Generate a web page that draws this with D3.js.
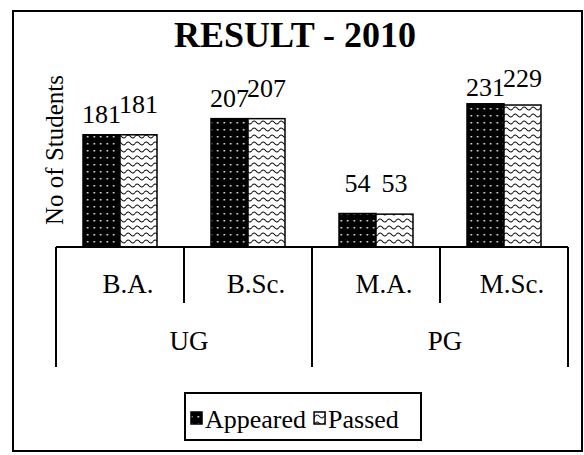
<!DOCTYPE html>
<html>
<head>
<meta charset="utf-8">
<script src="https://cdn.jsdelivr.net/npm/d3@7"></script>
<style>
  html, body { margin: 0; padding: 0; background: #fff; }
  svg { display: block; }
</style>
</head>
<body>
<svg id="chart" width="584" height="455"></svg>
<script>
// ---- data ----
const categories = ["B.A.", "B.Sc.", "M.A.", "M.Sc."];
const categoryGroup = ["UG", "UG", "PG", "PG"];
const groupNames = ["UG", "PG"];
const seriesNames = ["Appeared", "Passed"];
const appeared = [181, 207, 54, 231];
const passed = [181, 207, 53, 229];
const titleText = "RESULT - 2010";
const yTitle = "No of Students";

// ---- layout ----
const FONT = "Liberation Serif";
const plotLeft = 56, plotRight = 568, baseY = 247;
const svg = d3.select("#chart").attr("font-family", FONT);

const defs = svg.append("defs");
const dots = defs.append("pattern").attr("id", "dots")
  .attr("patternUnits", "userSpaceOnUse").attr("width", 6.5).attr("height", 7);
dots.append("rect").attr("width", 6.5).attr("height", 7).attr("fill", "#000");
dots.append("rect").attr("x", 2.5).attr("y", 3).attr("width", 1.5).attr("height", 1.5).attr("fill", "#fff");

const wave = defs.append("pattern").attr("id", "wave")
  .attr("patternUnits", "userSpaceOnUse").attr("width", 9).attr("height", 7);
wave.append("rect").attr("width", 9).attr("height", 7).attr("fill", "#fff");
wave.append("path").attr("d", "M0,3.5 Q2.25,0.5 4.5,3.5 T9,3.5").attr("fill", "none")
  .attr("stroke", "#000").attr("stroke-width", 1.1);

const fills = { Appeared: "url(#dots)", Passed: "url(#wave)" };

// outer border
svg.append("rect").attr("x", 13).attr("y", 11).attr("width", 569).attr("height", 440)
  .attr("fill", "none").attr("stroke", "#000").attr("stroke-width", 2);

// title
svg.append("text").attr("x", 295).attr("y", 47).attr("text-anchor", "middle")
  .attr("font-family", FONT).attr("font-size", 36).attr("font-weight", "bold").text(titleText);

// y title
svg.append("text").attr("transform", "translate(63,150) rotate(-90)")
  .attr("font-family", FONT).attr("text-anchor", "middle").attr("font-size", 25).text(yTitle);

const x0 = d3.scaleBand().domain(categories).range([plotLeft, plotRight]);
const x1 = d3.scaleBand().domain(seriesNames).range([0, x0.bandwidth()])
  .paddingInner(0).paddingOuter(0.73);
const y = d3.scaleLinear().domain([0, 250]).range([baseY, 92]);

const rows = categories.map((c, i) => ({ cat: c, Appeared: appeared[i], Passed: passed[i] }));
const labelLift = { Appeared: 12, Passed: 22 };
const labelLiftOverride = { "M.A.": { Appeared: 22, Passed: 22 }, "M.Sc.": { Appeared: 8, Passed: 18 } };

const g = svg.append("g");
rows.forEach(r => {
  seriesNames.forEach(s => {
    const bx = x0(r.cat) + x1(s);
    g.append("rect").attr("x", bx).attr("y", y(r[s]))
      .attr("width", x1.bandwidth()).attr("height", y(0) - y(r[s]))
      .attr("fill", fills[s]).attr("stroke", "#000").attr("stroke-width", 1.5);
    const lift = (labelLiftOverride[r.cat] || labelLift)[s];
    g.append("text").attr("x", bx + x1.bandwidth() / 2).attr("y", y(r[s]) - lift)
      .attr("font-family", FONT).attr("text-anchor", "middle").attr("font-size", 26).text(r[s]);
  });
});

// category axis (two-level)
const ax = svg.append("g").attr("stroke", "#000").attr("stroke-width", 2);
ax.append("line").attr("x1", plotLeft).attr("x2", plotRight).attr("y1", baseY).attr("y2", baseY);
categories.forEach((c, i) => {
  const left = x0(c);
  const isGroupStart = i === 0 || categoryGroup[i] !== categoryGroup[i - 1];
  ax.append("line").attr("x1", left).attr("x2", left).attr("y1", baseY)
    .attr("y2", isGroupStart ? 367 : 303);
});
ax.append("line").attr("x1", plotRight).attr("x2", plotRight).attr("y1", baseY).attr("y2", 367);

categories.forEach(c => {
  svg.append("text").attr("x", x0(c) + x0.bandwidth() / 2 + 8).attr("y", 293)
    .attr("font-family", FONT).attr("text-anchor", "middle").attr("font-size", 27).text(c);
});
groupNames.forEach(gn => {
  const members = categories.filter((c, i) => categoryGroup[i] === gn);
  const gx0 = x0(members[0]);
  const gx1 = x0(members[members.length - 1]) + x0.bandwidth();
  svg.append("text").attr("x", (gx0 + gx1) / 2 + 5).attr("y", 350)
    .attr("font-family", FONT).attr("text-anchor", "middle").attr("font-size", 27).text(gn);
});

// legend
const lg = svg.append("g");
lg.append("rect").attr("x", 185).attr("y", 393).attr("width", 236).attr("height", 47)
  .attr("fill", "#fff").attr("stroke", "#000").attr("stroke-width", 2);
let lx = 191;
seriesNames.forEach(s => {
  lg.append("rect").attr("x", lx).attr("y", 412).attr("width", 11).attr("height", 12)
    .attr("fill", fills[s]).attr("stroke", "#000").attr("stroke-width", 1.5);
  const t = lg.append("text").attr("x", lx + 14).attr("y", 428)
    .attr("font-family", FONT).attr("font-size", 26).text(s);
  lx += 14 + t.node().getComputedTextLength() + 8;
});
</script>
</body>
</html>
